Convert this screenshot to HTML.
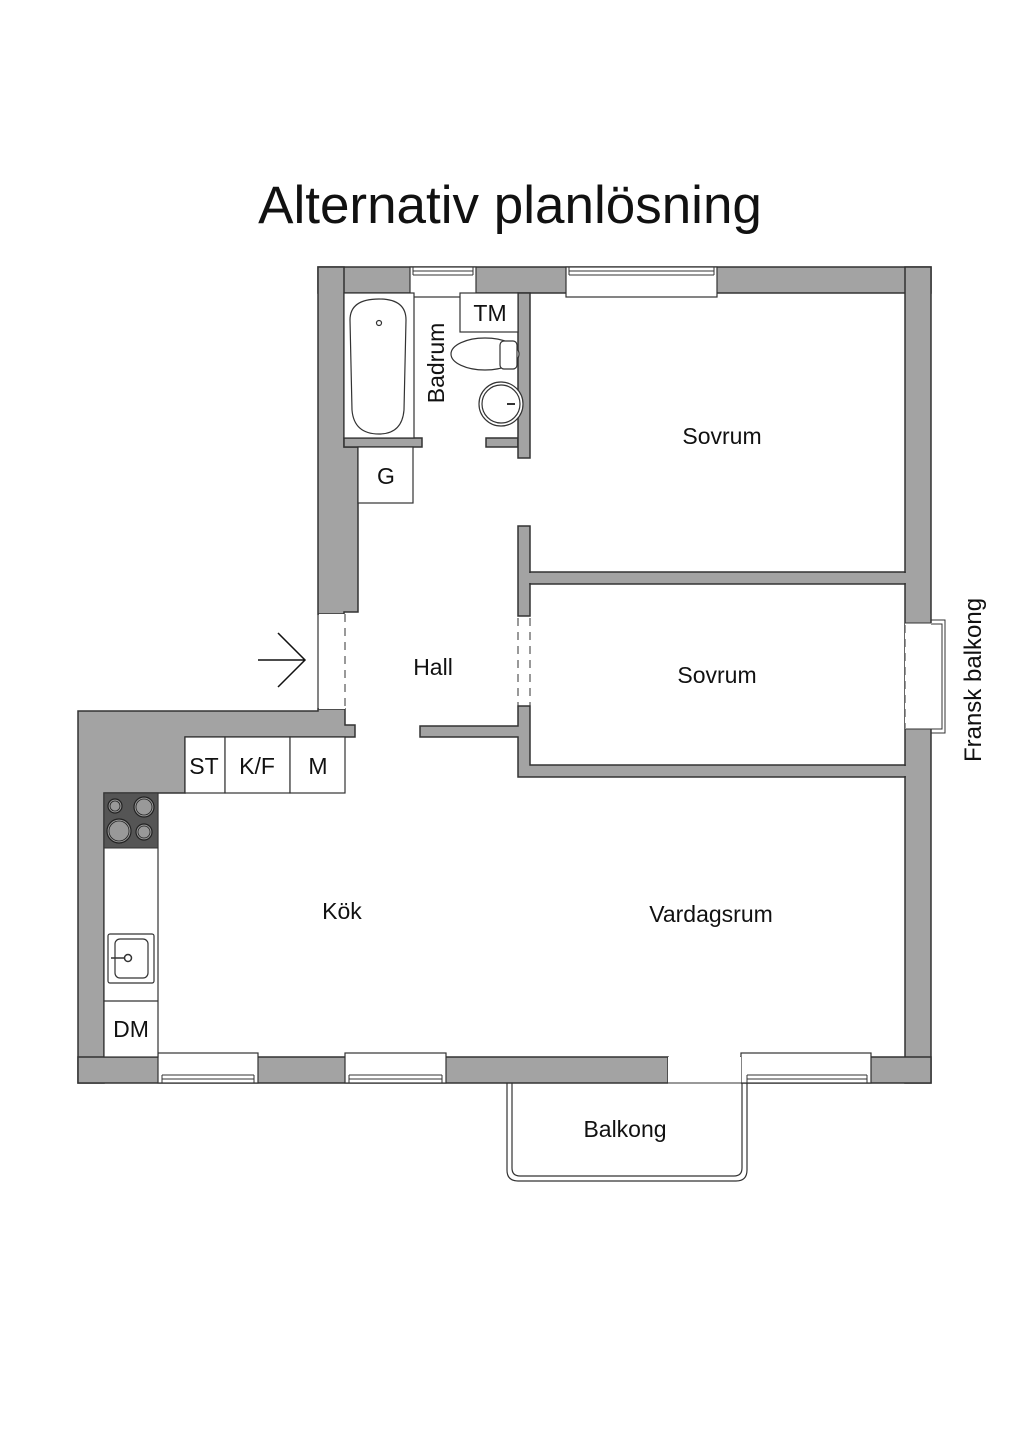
<!DOCTYPE html>
<html><head><meta charset="utf-8"><style>
html,body{margin:0;padding:0;background:#fff;}
svg{display:block;}
text{font-family:"Liberation Sans",sans-serif;fill:#111;}
</style></head><body>
<svg width="1024" height="1448" viewBox="0 0 1024 1448" xmlns="http://www.w3.org/2000/svg">
<text x="510" y="223" font-size="53" text-anchor="middle">Alternativ planlösning</text>
<g fill="#a3a3a3" stroke="#333" stroke-width="1.5">
<rect x="318" y="267" width="613" height="26"/>
<rect x="905" y="267" width="26" height="816"/>
<path d="M318 267 H344 V447 H358 V612 H344 V614 H318 Z"/>
<path d="M78 711 H318 V709 H345 V725 H355 V737 H185 V793 H104 V1083 H78 Z"/>
<rect x="78" y="1057" width="590" height="26"/>
<rect x="741" y="1057" width="190" height="26"/>
<rect x="344" y="438" width="78" height="9"/>
<rect x="486" y="438" width="32" height="9"/>
<rect x="518" y="293" width="12" height="165"/>
<rect x="518" y="526" width="12" height="90"/>
<path d="M518 706 H530 V765 H905 V777 H518 V737 H420 V726 H518 Z"/>
<rect x="530" y="572" width="375" height="12"/>
</g>
<g fill="#a3a3a3">
<rect x="906" y="268" width="24" height="30"/>
<rect x="519" y="294" width="10" height="6"/>
<rect x="519" y="725" width="10" height="12"/>
<rect x="903" y="573" width="4" height="10"/>
<rect x="903" y="766" width="4" height="10"/>
<rect x="79" y="1058" width="26" height="24"/>
<rect x="906" y="1058" width="24" height="24"/>
<rect x="529" y="573" width="3" height="10"/>
</g>
<g fill="#fff" stroke="#333" stroke-width="1.2">
<rect x="410" y="267" width="66" height="30"/>
<rect x="566" y="267" width="151" height="30"/>
<rect x="158" y="1053" width="100" height="30"/>
<rect x="345" y="1053" width="101" height="30"/>
<rect x="741" y="1053" width="130" height="30"/>
</g>
<g stroke="#333" stroke-width="1" fill="none">
<line x1="413" y1="271" x2="473" y2="271"/><line x1="413" y1="275" x2="473" y2="275"/>
<line x1="413" y1="267" x2="413" y2="275"/><line x1="473" y1="267" x2="473" y2="275"/>
<line x1="569" y1="271" x2="714" y2="271"/><line x1="569" y1="275" x2="714" y2="275"/>
<line x1="569" y1="267" x2="569" y2="275"/><line x1="714" y1="267" x2="714" y2="275"/>
<line x1="162" y1="1075" x2="254" y2="1075"/><line x1="162" y1="1079" x2="254" y2="1079"/>
<line x1="162" y1="1075" x2="162" y2="1083"/><line x1="254" y1="1075" x2="254" y2="1083"/>
<line x1="349" y1="1075" x2="442" y2="1075"/><line x1="349" y1="1079" x2="442" y2="1079"/>
<line x1="349" y1="1075" x2="349" y2="1083"/><line x1="442" y1="1075" x2="442" y2="1083"/>
<line x1="747" y1="1075" x2="867" y2="1075"/><line x1="747" y1="1079" x2="867" y2="1079"/>
<line x1="747" y1="1075" x2="747" y2="1083"/><line x1="867" y1="1075" x2="867" y2="1083"/>
</g>
<rect x="668" y="1057" width="73" height="27" fill="#fff"/>
<line x1="668" y1="1083" x2="741" y2="1083" stroke="#333" stroke-width="1"/>
<rect x="319" y="614" width="26" height="95" fill="#fff"/>
<line x1="318" y1="614" x2="318" y2="709" stroke="#333" stroke-width="1.2"/>
<line x1="345" y1="614" x2="345" y2="709" stroke="#333" stroke-width="1" stroke-dasharray="8,6"/>
<line x1="518" y1="618" x2="518" y2="706" stroke="#333" stroke-width="1" stroke-dasharray="8,6"/>
<line x1="530" y1="618" x2="530" y2="706" stroke="#333" stroke-width="1" stroke-dasharray="8,6"/>
<rect x="905" y="623" width="27" height="106" fill="#fff"/>
<line x1="905" y1="623" x2="931" y2="623" stroke="#333"/><line x1="905" y1="729" x2="931" y2="729" stroke="#333"/>
<line x1="905" y1="625" x2="905" y2="728" stroke="#333" stroke-width="1" stroke-dasharray="8,6"/>
<path d="M931 620 H945 V733 H931" fill="none" stroke="#333"/>
<path d="M931 624 H942 V729 H931" fill="none" stroke="#333"/>
<path d="M507 1083 V1170 Q507 1181 518 1181 H736 Q747 1181 747 1170 V1083" fill="none" stroke="#333" stroke-width="1.2"/>
<path d="M512 1083 V1168 Q512 1176 520 1176 H734 Q742 1176 742 1168 V1083" fill="none" stroke="#333" stroke-width="1.2"/>
<g fill="#fff" stroke="#333" stroke-width="1.2">
<rect x="344" y="293" width="70" height="145"/>
<path d="M379 299 Q406 299 406 320 L404 410 Q402 434 379 434 Q354 434 352 410 L350 320 Q350 299 379 299 Z"/>
<circle cx="379" cy="323" r="2.5"/>
<rect x="460" y="293" width="58" height="39"/>
<ellipse cx="485" cy="354" rx="34" ry="16"/>
<rect x="500" y="341" width="17" height="28" rx="4"/>
<circle cx="501" cy="404" r="22"/>
<circle cx="501" cy="404" r="19"/>
<rect x="358" y="447" width="55" height="56"/>
</g>
<line x1="414" y1="297" x2="414" y2="438" stroke="#333"/>
<line x1="507" y1="404" x2="515" y2="404" stroke="#333" stroke-width="2"/>
<g stroke="#333" stroke-width="1.2" fill="#fff">
<rect x="185" y="737" width="40" height="56"/><rect x="225" y="737" width="65" height="56"/><rect x="290" y="737" width="55" height="56"/>
<rect x="104" y="793" width="54" height="264"/>
<line x1="104" y1="1001" x2="158" y2="1001"/>
<rect x="108" y="934" width="46" height="49" rx="2"/>
<rect x="115" y="939" width="33" height="39" rx="5"/>
</g>
<circle cx="128" cy="958" r="3.5" fill="#fff" stroke="#333" stroke-width="1.5"/>
<line x1="111" y1="958" x2="124" y2="958" stroke="#333" stroke-width="1.5"/>
<rect x="104" y="793" width="54" height="55" fill="#555" stroke="#333"/>
<g fill="#999" stroke="#222" stroke-width="1.2">
<circle cx="115" cy="806" r="7"/><circle cx="144" cy="807" r="10"/>
<circle cx="119" cy="831" r="12"/><circle cx="144" cy="832" r="8"/>
</g>
<g fill="none" stroke="#222" stroke-width="0.8">
<circle cx="115" cy="806" r="5"/><circle cx="144" cy="807" r="8"/>
<circle cx="119" cy="831" r="10"/><circle cx="144" cy="832" r="6"/>
</g>
<path d="M258 660 H305 M278 633 L305 660 L278 687" fill="none" stroke="#111" stroke-width="1.5"/>
<g font-size="23">
<text x="722" y="444" text-anchor="middle">Sovrum</text>
<text x="717" y="683" text-anchor="middle">Sovrum</text>
<text x="433" y="675" text-anchor="middle">Hall</text>
<text x="342" y="919" text-anchor="middle">Kök</text>
<text x="711" y="922" text-anchor="middle">Vardagsrum</text>
<text x="625" y="1137" text-anchor="middle">Balkong</text>
<text x="490" y="321" text-anchor="middle">TM</text>
<text x="386" y="484" text-anchor="middle">G</text>
<text x="204" y="774" text-anchor="middle">ST</text>
<text x="257" y="774" text-anchor="middle">K/F</text>
<text x="318" y="774" text-anchor="middle">M</text>
<text x="131" y="1037" text-anchor="middle">DM</text>
<text transform="translate(444,363) rotate(-90)" text-anchor="middle">Badrum</text>
<text transform="translate(981,680) rotate(-90)" text-anchor="middle" font-size="24">Fransk balkong</text>
</g>
</svg>
</body></html>
